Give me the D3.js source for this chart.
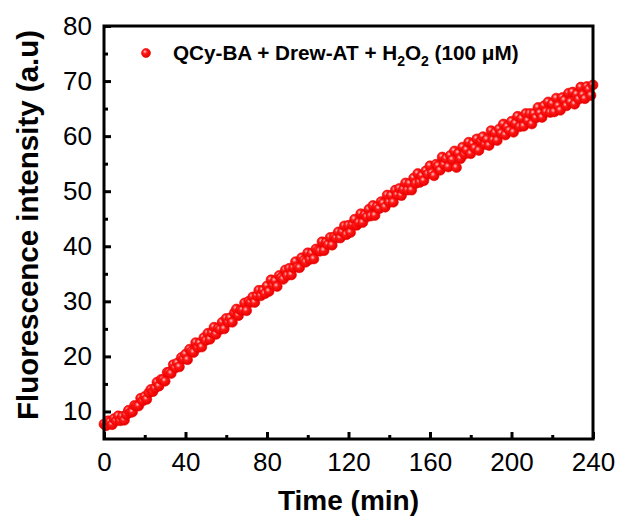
<!DOCTYPE html>
<html>
<head>
<meta charset="utf-8">
<script src="https://cdn.jsdelivr.net/npm/d3@7"></script>
<style>
  body { margin: 0; background: #fff; }
  svg { display: block; font-family: "Liberation Sans", Arial, sans-serif; }
</style>
</head>
<body>
<div id="chart"></div>
<script>
// 时间 (min)，每分钟一个点
const timeStart = 0;
const timeStep = 1;
// 荧光强度，从图上逐段读出
const intensity = [
  7.7, 7.4, 8.3, 8.1, 7.6, 8.7, 8.3, 9.2, 8.3, 9.1,
  8.4, 9.4, 10.2, 9.8, 9.9, 11.1, 11.0, 11.0, 12.4, 11.9,
  12.7, 12.2, 13.4, 14.0, 13.6, 14.2, 15.3, 14.6, 15.8, 15.8,
  15.5, 17.1, 17.1, 16.9, 18.5, 17.9, 18.8, 18.1, 19.8, 19.5,
  20.4, 19.4, 21.3, 20.9, 20.7, 22.5, 21.6, 22.4, 21.7, 23.4,
  22.9, 24.2, 23.1, 24.3, 25.3, 24.0, 25.1, 24.9, 26.2, 25.0,
  26.9, 26.2, 27.0, 26.2, 27.9, 28.6, 27.4, 28.4, 28.4, 29.7,
  28.3, 30.0, 29.8, 30.8, 29.8, 31.0, 32.0, 31.0, 32.0, 31.4,
  32.8, 31.8, 33.9, 32.9, 33.7, 32.7, 34.7, 34.3, 34.0, 35.7,
  34.7, 36.0, 34.8, 36.1, 37.2, 36.2, 36.1, 37.9, 37.4, 37.1,
  38.8, 37.6, 38.7, 37.7, 39.5, 39.2, 39.1, 40.8, 39.2, 40.7,
  40.3, 41.6, 40.2, 41.7, 41.5, 42.6, 41.5, 42.6, 43.7, 42.1,
  43.8, 42.5, 43.9, 44.9, 43.8, 44.3, 45.9, 44.3, 45.7, 45.3,
  46.7, 45.5, 47.4, 45.6, 47.2, 46.8, 48.1, 47.8, 47.1, 49.3,
  48.0, 49.2, 48.0, 50.2, 49.3, 50.5, 49.2, 50.3, 51.5, 50.2,
  51.4, 50.2, 52.4, 51.4, 53.2, 51.6, 52.8, 51.9, 53.7, 53.1,
  54.6, 53.3, 52.8, 54.9, 54.6, 53.8, 56.2, 54.8, 55.9, 54.4,
  56.5, 55.7, 57.3, 54.3, 56.9, 55.9, 58.0, 56.7, 57.5, 58.9,
  56.8, 58.6, 57.8, 59.5, 57.4, 59.1, 59.9, 58.5, 59.4, 58.3,
  61.0, 59.3, 60.6, 59.2, 61.3, 60.5, 62.2, 60.2, 61.7, 61.0,
  62.7, 60.7, 62.3, 63.6, 61.7, 63.2, 61.8, 64.1, 62.8, 64.1,
  62.2, 64.1, 63.3, 65.2, 64.2, 63.4, 65.5, 64.4, 66.2, 64.3,
  65.9, 64.4, 66.9, 65.5, 64.7, 67.0, 66.5, 65.5, 67.8, 66.2,
  68.0, 65.8, 67.6, 66.7, 68.9, 67.5, 66.8, 69.0, 68.5, 67.4,
  69.3
];
// 刻度
const xTicks = [0, 40, 80, 120, 160, 200, 240];
const xMinorTicks = [20, 60, 100, 140, 180, 220];
const yTicks = [10, 20, 30, 40, 50, 60, 70, 80];
const yMinorTicks = [15, 25, 35, 45, 55, 65, 75];

const data = intensity.map((v, i) => ({ t: timeStart + i * timeStep, v: v }));

const width = 622, height = 519;
const margin = { top: 26, right: 29, bottom: 80, left: 104 };
const w = width - margin.left - margin.right;
const h = height - margin.top - margin.bottom;

const svg = d3.select('#chart').append('svg')
  .attr('width', width).attr('height', height);

// 球形的点
const grad = svg.append('defs').append('radialGradient')
  .attr('id', 'ball').attr('cx', '38%').attr('cy', '35%').attr('r', '65%');
grad.append('stop').attr('offset', '0%').attr('stop-color', '#ffc8c8');
grad.append('stop').attr('offset', '35%').attr('stop-color', '#ff1a1a');
grad.append('stop').attr('offset', '100%').attr('stop-color', '#e60000');

const g = svg.append('g').attr('transform', `translate(${margin.left},${margin.top})`);

const x = d3.scaleLinear().domain([0, 240]).range([0, w]);
const y = d3.scaleLinear().domain([5, 80]).range([h, 0]);

// 数据点
g.append('g').selectAll('circle')
  .data(data)
  .enter().append('circle')
  .attr('cx', d => x(d.t))
  .attr('cy', d => y(d.v))
  .attr('r', 5)
  .attr('fill', 'url(#ball)')
  .attr('stroke', '#f00000')
  .attr('stroke-width', 0.6);

// 坐标轴（刻度向内）
function styleAxis(sel) {
  sel.select('.domain').remove();
  sel.selectAll('line').attr('stroke', '#000').attr('stroke-width', 3);
  sel.selectAll('text').attr('fill', '#000').style('font-size', '26px');
}

g.append('g').attr('transform', `translate(0,${h})`)
  .call(d3.axisBottom(x).tickValues(xTicks).tickSize(-7).tickPadding(14))
  .call(styleAxis);
g.append('g').attr('transform', `translate(0,${h})`)
  .call(d3.axisBottom(x).tickValues(xMinorTicks).tickSize(-4).tickFormat(''))
  .call(styleAxis);

g.append('g')
  .call(d3.axisLeft(y).tickValues(yTicks).tickSize(-7).tickPadding(12))
  .call(styleAxis);
g.append('g')
  .call(d3.axisLeft(y).tickValues(yMinorTicks).tickSize(-4).tickFormat(''))
  .call(styleAxis);

// 边框
g.append('rect')
  .attr('x', 0).attr('y', 0).attr('width', w).attr('height', h)
  .attr('fill', 'none').attr('stroke', '#000').attr('stroke-width', 3);

// 轴标题
svg.append('text')
  .attr('x', margin.left + w / 2).attr('y', 510)
  .attr('text-anchor', 'middle')
  .style('font-size', '28px').style('font-weight', 'bold')
  .text('Time (min)');

svg.append('text')
  .attr('transform', `translate(38,225) rotate(-90)`)
  .attr('text-anchor', 'middle')
  .style('font-size', '29.5px').style('font-weight', 'bold')
  .text('Fluorescence intensity (a.u)');

// 图例
svg.append('circle')
  .attr('cx', 146).attr('cy', 53).attr('r', 4.5)
  .attr('fill', 'url(#ball)').attr('stroke', '#f00000').attr('stroke-width', 0.6);

const leg = svg.append('text')
  .attr('x', 173).attr('y', 60)
  .style('font-size', '20.7px').style('font-weight', 'bold');
leg.append('tspan').text('QCy-BA + Drew-AT + H');
leg.append('tspan').text('2').attr('dy', 6).style('font-size', '14px');
leg.append('tspan').text('O').attr('dy', -6);
leg.append('tspan').text('2').attr('dy', 6).style('font-size', '14px');
leg.append('tspan').text(' (100 μM)').attr('dy', -6);
</script>
</body>
</html>
